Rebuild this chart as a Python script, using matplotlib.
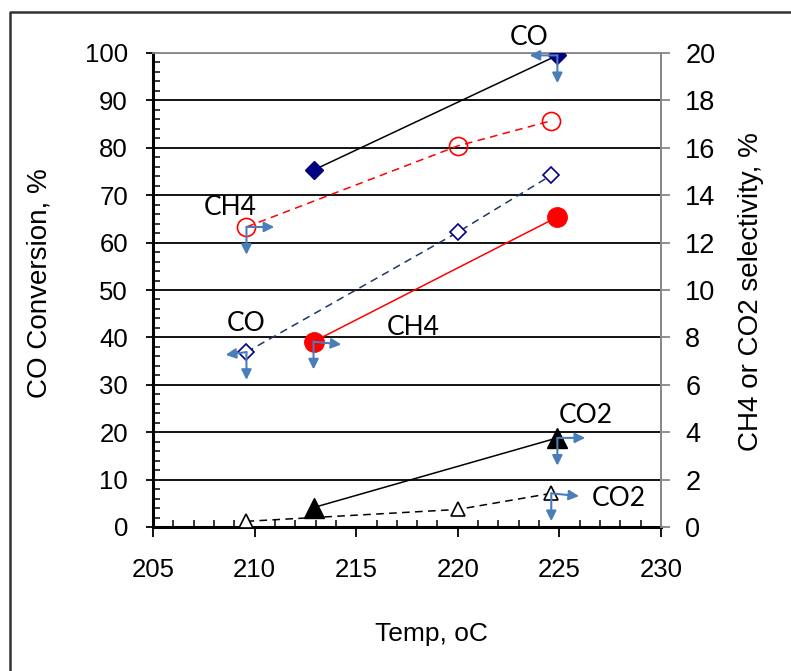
import matplotlib
matplotlib.use("Agg")
import matplotlib.pyplot as plt
from matplotlib.lines import Line2D
from matplotlib.ticker import MultipleLocator

# CO conversion, % (left axis)
co_fill_t = [212.9, 224.9]
co_fill = [75.3, 99.5]
co_open_t = [209.6, 220.0, 224.6]
co_open = [36.9, 62.2, 74.2]

# CH4 / CO2 selectivity, % (right axis)
ch4_open_t = [209.6, 220.0, 224.6]
ch4_open = [12.66, 16.08, 17.14]
ch4_fill_t = [212.9, 224.9]
ch4_fill = [7.82, 13.08]
co2_fill_t = [212.9, 224.9]
co2_fill = [0.82, 3.76]
co2_open_t = [209.6, 220.0, 224.6]
co2_open = [0.24, 0.74, 1.42]

x_ticks = [205, 210, 215, 220, 225, 230]
left_ticks = list(range(0, 101, 10))
right_ticks = list(range(0, 21, 2))

TICK_FONT = "Liberation Sans"
NOTE_FONT = "Lato"
ARROW_C = "#4A7EBB"

fig = plt.figure(figsize=(7.91, 6.71), dpi=100)
ax = fig.add_axes([153 / 791, 1 - 527 / 671, 508 / 791, 474 / 671])
ax2 = ax.twinx()

# left axis series
ax.plot(co_fill_t, co_fill, color="black", lw=1.1, marker="D", ms=9,
        mfc="#000080", mec="#000080", zorder=3)
ax.plot(co_open_t, co_open, color="#1F3864", lw=1.1, ls=(0, (5, 3.5)),
        marker="D", ms=8.5, mfc="white", mec="#000080", mew=1.2, zorder=3)

# right axis series
ax2.plot(ch4_open_t, ch4_open, color="red", lw=1.1, ls=(0, (5, 3.5)),
         marker="o", ms=13, mfc="none", mec="red", mew=1.2, zorder=3)
ax2.plot(ch4_fill_t, ch4_fill, color="red", lw=1.1, marker="o", ms=14,
         mfc="red", mec="red", zorder=3)
ax2.plot(co2_fill_t, co2_fill, color="black", lw=1.1, marker="^", ms=14,
         mfc="black", mec="black", zorder=3)
ax2.plot(co2_open_t, co2_open, color="black", lw=1.1, ls=(0, (5, 3.5)),
         marker="^", ms=10, mfc="white", mec="black", mew=1.2, zorder=3)

ax.set_xlim(205, 230)
ax.set_ylim(0, 100)
ax2.set_ylim(0, 20)

ax.set_xticks(x_ticks)
ax.xaxis.set_minor_locator(MultipleLocator(1))
ax.set_yticks(left_ticks)
ax.yaxis.set_minor_locator(MultipleLocator(2))
ax2.set_yticks(right_ticks)

ax.set_axisbelow(True)
ax.grid(axis="y", color="black", lw=1.3)
ax.get_ygridlines()[-1].set_color("#878787")

ax.tick_params(axis="x", which="major", direction="out", length=7, width=1.3,
               pad=15, labelsize=18.5)
ax.tick_params(axis="x", which="minor", direction="in", length=5, width=1.1)
ax.tick_params(axis="y", which="major", direction="out", length=5, width=1.3,
               pad=13, labelsize=18.5)
ax.tick_params(axis="y", which="minor", direction="in", length=5, width=1.1)
ax2.tick_params(axis="y", direction="out", length=6.5, width=1.3,
                color="#878787", pad=11, labelsize=19.5)

for lab in ax.get_xticklabels() + ax.get_yticklabels() + ax2.get_yticklabels():
    lab.set_fontfamily(TICK_FONT)

for side in ["left", "bottom"]:
    ax.spines[side].set_linewidth(2.2)
    ax.spines[side].set_color("black")
for side in ["top", "right"]:
    ax.spines[side].set_linewidth(1.3)
    ax.spines[side].set_color("#878787")
for side in ["left", "bottom", "top"]:
    ax2.spines[side].set_visible(False)
ax2.spines["right"].set_linewidth(1.3)
ax2.spines["right"].set_color("#878787")

ax.set_xlabel("Temp, oC", fontsize=19, fontfamily=TICK_FONT)
ax.xaxis.label.set_va("center")
ax.xaxis.set_label_coords((431 - 153) / 508, (527 - 634) / 474)

ax.set_ylabel("CO Conversion, %", fontsize=20, fontfamily=TICK_FONT)
ax.yaxis.label.set_va("center")
ax.yaxis.set_label_coords((40 - 153) / 508, (527 - 283) / 474)

ax2.set_ylabel("CH4 or CO2 selectivity, %", fontsize=20, fontfamily=TICK_FONT,
               rotation=90)
ax2.yaxis.label.set_va("center")
ax2.yaxis.set_label_coords((751 - 153) / 508, (527 - 292) / 474)

# series labels
notes = [("CO", 223.5, 103.2), ("CH4", 208.8, 67.5), ("CO", 209.6, 43.0),
         ("CH4", 217.8, 42.0), ("CO2", 226.3, 23.6), ("CO2", 227.9, 6.1)]
for txt, tx, ty in notes:
    ax.text(tx, ty, txt, fontsize=19, fontfamily=NOTE_FONT,
            ha="center", va="center", clip_on=False, zorder=5)

# axis pointer arrows
L = 20
pointers = [
    (ax, co_fill_t[-1], co_fill[-1], [(-L, 0), (0, -L)]),
    (ax2, ch4_open_t[0], ch4_open[0], [(L, 0), (0, -L)]),
    (ax, co_open_t[0], co_open[0], [(-L * 0.75, -2), (0, -L)]),
    (ax2, ch4_fill_t[0], ch4_fill[0], [(L, -2), (0, -L)]),
    (ax2, co2_fill_t[-1], co2_fill[-1], [(L, 0), (0, -L)]),
    (ax2, co2_open_t[-1], co2_open[-1], [(L, -2), (0, -L)]),
]
for axis, px, py, dirs in pointers:
    for dx, dy in dirs:
        axis.annotate("", xy=(px, py), xytext=(dx, dy),
                      textcoords="offset points", annotation_clip=False,
                      arrowprops=dict(arrowstyle="<|-", color=ARROW_C, lw=1.5,
                                      mutation_scale=15, shrinkA=0, shrinkB=0),
                      zorder=6)

# outer frame of the chart area
fig.add_artist(Line2D([9.5 / 791, 9.5 / 791, 1.0], [0.0, 1 - 11.5 / 671, 1 - 11.5 / 671],
                      transform=fig.transFigure, color="#333333", lw=1.8))

fig.savefig("out.png", dpi=100)
